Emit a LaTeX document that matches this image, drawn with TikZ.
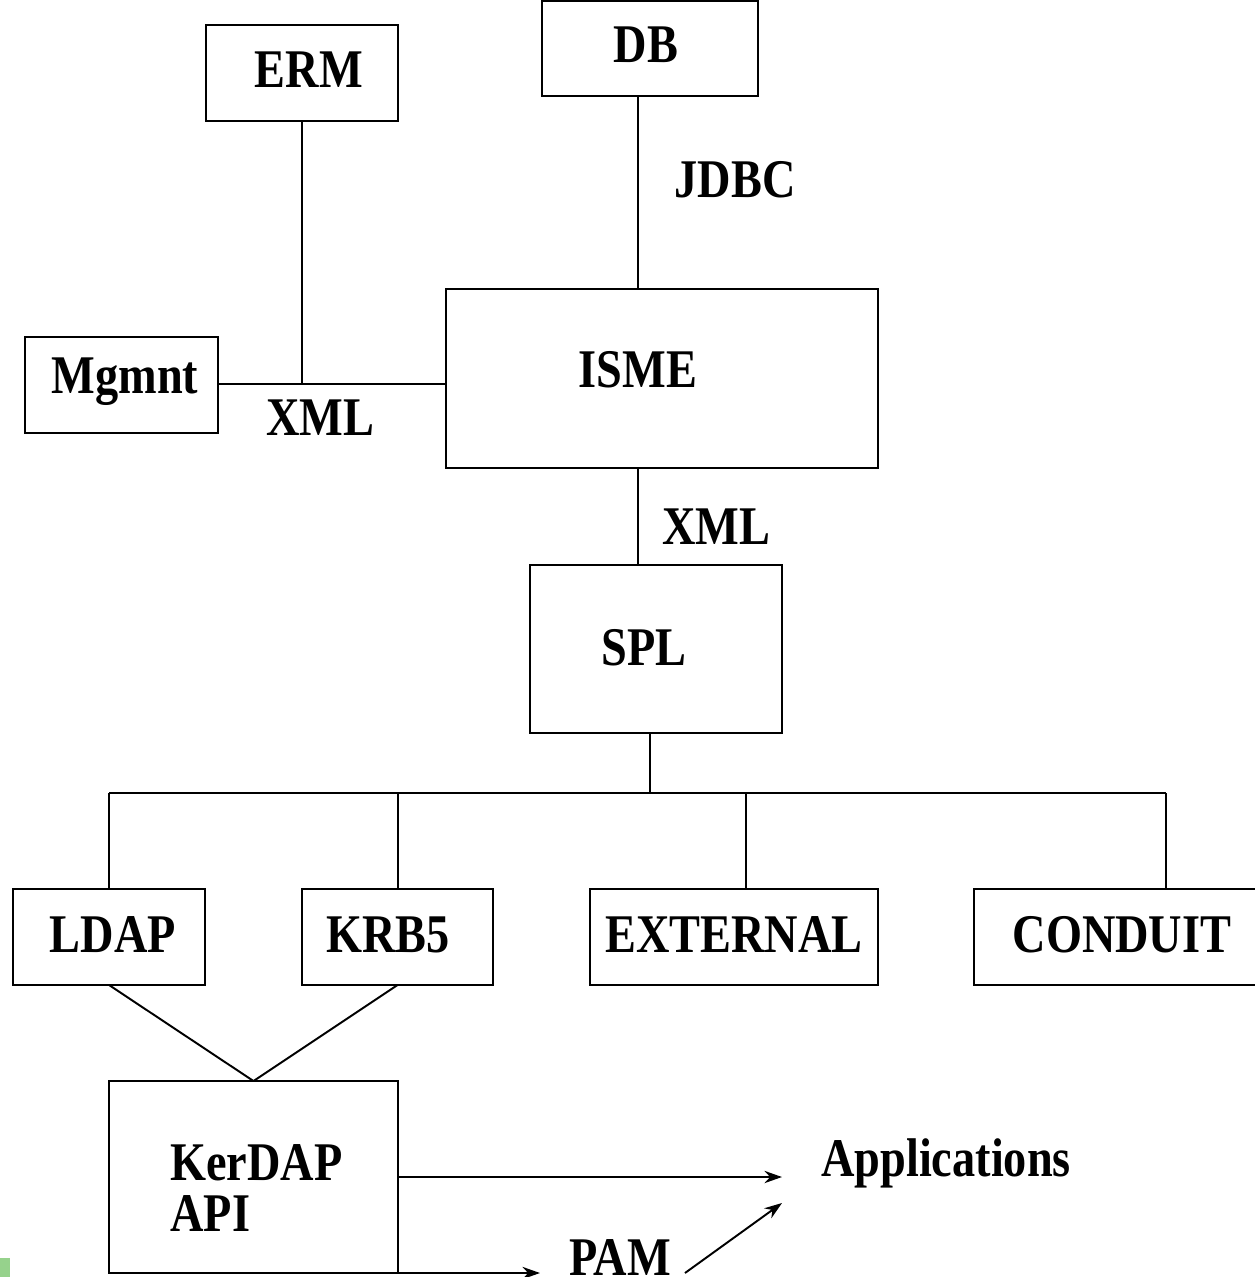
\documentclass[tikz,border=0pt]{standalone}
\usepackage{fontspec}
\setmainfont{Liberation Serif}[FakeStretch=0.85]
\usetikzlibrary{arrows.meta}
\definecolor{markgreen}{RGB}{150,210,140}
\begin{document}
\begin{tikzpicture}[x=0.02cm,y=-0.02cm,
  box/.style={draw,line width=1.2pt,inner sep=0pt,outer sep=0pt,minimum height=1.92cm},
  lbl/.style={font=\fontsize{31}{34}\selectfont\bfseries,inner sep=0pt},
  wire/.style={line width=1.1pt},
  arr/.style={line width=1.1pt,-{Stealth[length=10pt,width=7pt]}}]
\useasboundingbox (0,0) rectangle (1254,1277);
\fill[markgreen] (0,1258) rectangle (10,1277);

% boxes
\node[box,minimum width=3.84cm] (erm) at (302,73) {};
\node[box,minimum width=4.32cm,minimum height=1.90cm] (db) at (650,48.5) {};
\node[box,minimum width=3.86cm] (mgmnt) at (121.5,385) {};
\node[box,minimum width=8.64cm,minimum height=3.58cm] (isme) at (662,378.5) {};
\node[box,minimum width=5.04cm,minimum height=3.36cm] (spl) at (656,649) {};
\node[box,minimum width=3.84cm] (ldap) at (109,937) {};
\node[box,minimum width=3.82cm] (krb) at (397.5,937) {};
\node[box,minimum width=5.76cm] (ext) at (734,937) {};
\node[box,minimum width=5.68cm] (cond) at (1116,937) {};
\node[box,minimum width=5.78cm,minimum height=3.84cm] (kerdap) at (253.5,1177) {};

% box texts
\node[lbl] (tErm) at (309,70) {ERM};
\node[lbl] (tDb) at (646,45) {DB};
\node[lbl] (tMg) at (125,382) {Mgmnt};
\node[lbl] (tIsme) at (638,370) {ISME};
\node[lbl] (tSpl) at (644,648) {SPL};
\node[lbl] (tLdap) at (113,935) {LDAP};
\node[lbl] (tKrb) at (388,935) {KRB5};
\node[lbl] (tExt) at (734,935) {EXTERNAL};
\node[lbl] (tCond) at (1122,935) {CONDUIT};
\node[lbl,align=left,anchor=west,font=\fontsize{31}{29}\selectfont\bfseries] (tKer) at (170,1188) {KerDAP\\API};

% connector labels
\node[lbl] (xml1) at (320,418) {XML};
\node[lbl] (jdbc) at (735,180) {JDBC};
\node[lbl] (xml2) at (716,527) {XML};
\node[lbl] (apps) at (946,1163) {Applications};
\node[lbl] (pam) at (620,1258) {PAM};

% junction points
\coordinate (j1) at (302,384);
\coordinate (dbx) at (638,0);
\coordinate (splx) at (638,0);
\coordinate (bus) at (650,793);
\coordinate (d1) at (109,793);
\coordinate (d2) at (398,793);
\coordinate (d3) at (746,793);
\coordinate (d4) at (1166,793);
\coordinate (a1) at (782,1177);
\coordinate (a2) at (540,1273);
\coordinate (p0) at (685,1273);
\coordinate (p1) at (782,1203);

% upper links
\draw[wire] (erm.south -| j1) -- (j1);
\draw[wire] (mgmnt.east |- j1) -- (isme.west |- j1);
\draw[wire] (db.south -| dbx) -- (isme.north -| dbx);
\draw[wire] (isme.south -| splx) -- (spl.north -| splx);

% distribution bus
\draw[wire] (spl.south -| bus) -- (bus);
\draw[wire] (d1) -- (d4);
\draw[wire] (d1) -- (ldap.north -| d1);
\draw[wire] (d2) -- (krb.north -| d2);
\draw[wire] (d3) -- (ext.north -| d3);
\draw[wire] (d4) -- (cond.north -| d4);

% library links
\draw[wire] (ldap.south) -- (kerdap.north);
\draw[wire] (krb.south) -- (kerdap.north);

% arrows to applications
\draw[arr] (kerdap.east |- a1) -- (a1);
\draw[arr] (kerdap.south east) -- (a2);
\draw[arr] (p0) -- (p1);
\end{tikzpicture}
\end{document}
